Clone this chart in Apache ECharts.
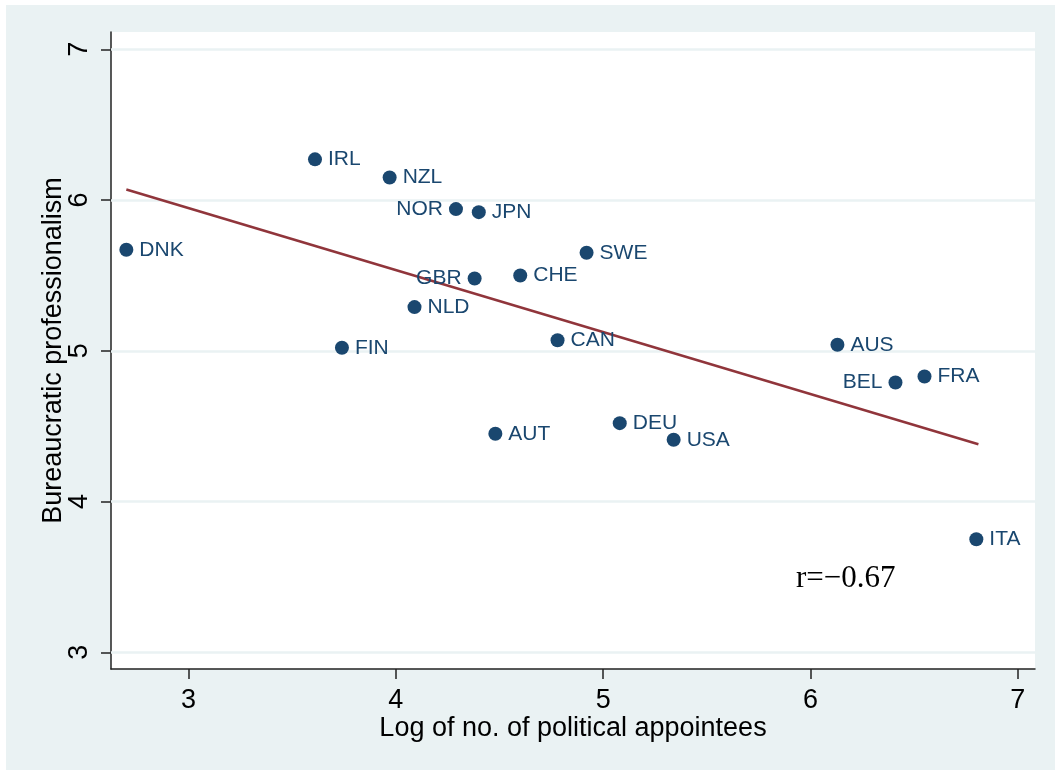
<!DOCTYPE html>
<html>
<head>
<meta charset="utf-8">
<script src="https://cdn.jsdelivr.net/npm/echarts@6/dist/echarts.min.js"></script>
<style>
  html, body { margin: 0; padding: 0; background: #ffffff; }
  #chart { position: absolute; left: 6px; top: 5px; width: 1049px; height: 765px; }
</style>
</head>
<body>
<div id="chart"></div>
<script>
// ---- data ----
const countries = ['DNK','IRL','NZL','NOR','JPN','SWE','CHE','GBR','NLD','FIN','CAN','AUS','FRA','BEL','DEU','USA','AUT','ITA'];
const logAppointees = [2.70, 3.61, 3.97, 4.29, 4.40, 4.92, 4.60, 4.38, 4.09, 3.74, 4.78, 6.13, 6.55, 6.41, 5.08, 5.34, 4.48, 6.80];
const professionalism = [5.67, 6.27, 6.15, 5.94, 5.92, 5.65, 5.50, 5.48, 5.29, 5.02, 5.07, 5.04, 4.83, 4.79, 4.52, 4.41, 4.45, 3.75];
const labelLeft = ['NOR', 'GBR', 'BEL'];
const fitX = [2.70, 6.81];
const fitY = [6.07, 4.38];
const xTicks = [3, 4, 5, 6, 7];
const yTicks = [3, 4, 5, 6, 7];
const corrText = 'r=\u22120.67';

const navy = '#1a476f';
const maroon = '#90353b';
const bg = '#eaf2f3';
const sans = 'Liberation Sans, Arial, Helvetica, sans-serif';

const points = countries.map((c, i) => ({
  value: [logAppointees[i], professionalism[i]],
  name: c,
  label: { position: labelLeft.includes(c) ? 'left' : 'right' }
}));

const chart = echarts.init(document.getElementById('chart'), null, { renderer: 'canvas' });
chart.setOption({
  animation: false,
  backgroundColor: bg,
  grid: {
    left: 105, top: 27, right: 20, bottom: 101,
    show: true, backgroundColor: '#ffffff', borderWidth: 0
  },
  xAxis: {
    type: 'value', min: 2.626, max: 7.083,
    name: 'Log of no. of political appointees',
    nameLocation: 'middle', nameGap: 46, nameMoveOverlap: false,
    nameTextStyle: { fontFamily: sans, fontSize: 27, color: '#000' },
    axisLine: { show: true, onZero: false, lineStyle: { color: '#222', width: 1.5 } },
    axisTick: { show: true, customValues: xTicks, length: 10, inside: false, lineStyle: { color: '#222', width: 1.5 } },
    axisLabel: { customValues: xTicks, margin: 18, fontFamily: sans, fontSize: 27, color: '#000' },
    splitLine: { show: false }
  },
  yAxis: {
    type: 'value', min: 2.889, max: 7.115,
    name: 'Bureaucratic professionalism',
    nameLocation: 'middle', nameGap: 44, nameMoveOverlap: false,
    nameTextStyle: { fontFamily: sans, fontSize: 27, color: '#000' },
    axisLine: { show: true, onZero: false, lineStyle: { color: '#222', width: 1.5 } },
    axisTick: { show: true, customValues: yTicks, length: 10, inside: false, lineStyle: { color: '#222', width: 1.5 } },
    axisLabel: { customValues: yTicks, rotate: 90, margin: 18, fontFamily: sans, fontSize: 27, color: '#000' },
    splitLine: { show: false }
  },
  graphic: [{
    type: 'text', left: 790, top: 558,
    style: { text: corrText, fontFamily: 'Liberation Serif, Times New Roman, serif', fontSize: 31, fill: '#000' }
  }],
  series: [
    {
      type: 'line', data: [], z: 1, silent: true,
      markLine: {
        silent: true, symbol: 'none', z: 1, animation: false,
        label: { show: false },
        lineStyle: { color: bg, width: 2.5, type: 'solid', opacity: 1 },
        data: yTicks.map(v => ({ yAxis: v }))
      }
    },
    {
      type: 'line', z: 2, silent: true, symbol: 'none',
      data: fitX.map((x, i) => [x, fitY[i]]),
      lineStyle: { color: maroon, width: 2.5, opacity: 1 }
    },
    {
      type: 'scatter', z: 3, symbol: 'circle', symbolSize: 14,
      itemStyle: { color: navy, opacity: 1 },
      data: points,
      label: {
        show: true, formatter: p => p.name, distance: 6,
        fontFamily: sans, fontSize: 21, color: navy, opacity: 1
      }
    }
  ]
});
</script>
</body>
</html>
